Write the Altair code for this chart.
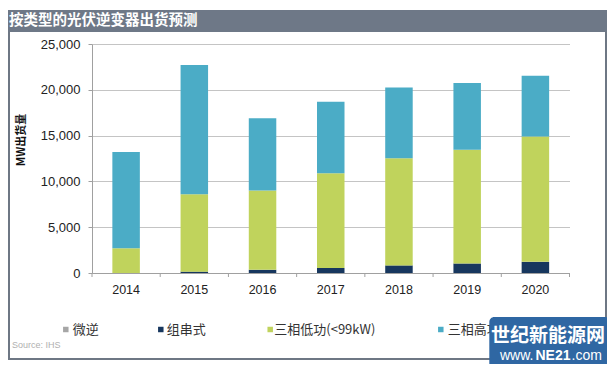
import altair as alt
import pandas as pd

years = ["2014", "2015", "2016", "2017", "2018", "2019", "2020"]
series = ["微逆", "组串式", "三相低功(<99kW)", "三相高功(>99kW)"]
micro = [0, 0, 0, 0, 0, 0, 0]
string_inv = [0, 150, 350, 550, 830, 1040, 1220]
low_power = [2700, 8450, 8650, 10350, 11710, 12410, 13670]
high_power = [10500, 14100, 7900, 7800, 7700, 7300, 6650]
colors = ["#a6a6a6", "#17375e", "#c0d35c", "#4bacc6"]
y_ticks = [0, 5000, 10000, 15000, 20000, 25000]

rows = []
for i, y in enumerate(years):
    for k, (name, vals) in enumerate(zip(series, [micro, string_inv, low_power, high_power])):
        rows.append({"year": y, "series": name, "value": vals[i], "order": k})
df = pd.DataFrame(rows)

W, H = 477.5, 229
FONT = "Noto Sans CJK SC"
one = pd.DataFrame({"a": [0]})
color_scale = alt.Scale(domain=series, range=colors)

bars = alt.Chart(df).mark_bar(size=27.5).encode(
    x=alt.X("year:N", sort=years, title=None,
            scale=alt.Scale(type="band", paddingInner=0, paddingOuter=0),
            axis=alt.Axis(labelAngle=0, ticks=False, domainColor="#a0a0a0",
                          labelFont="Liberation Sans", labelFontSize=12.5,
                          labelColor="#222", labelPadding=10)),
    y=alt.Y("value:Q", stack="zero", title=None,
            scale=alt.Scale(domain=[0, 25000], nice=False),
            axis=alt.Axis(values=y_ticks, format=",.0f", gridColor="#c4c4c4",
                          domainColor="#a0a0a0", tickColor="#a0a0a0", tickSize=4,
                          labelFont="Liberation Sans", labelFontSize=13,
                          labelColor="#222", labelPadding=8)),
    color=alt.Color("series:N", sort=series, scale=color_scale, legend=None),
    order=alt.Order("order:Q"),
)

ticks = alt.Chart(pd.DataFrame({"year": years})).mark_rule(
    xOffset=-W / 14, color="#a0a0a0").encode(
    x=alt.X("year:N", sort=years), y=alt.value(H), y2=alt.value(H + 4))
tick_end = alt.Chart(one).mark_rule(color="#a0a0a0").encode(
    x=alt.value(W), y=alt.value(H), y2=alt.value(H + 4))

# hand-placed legend (so that the watermark can cover it as in the reference)
legend_sym_x = [-26.2, 68.8, 178.2, 348.8]
legend_txt_x = [-19.3, 74.7, 182.3, 355.7]
legend_y = 285.5
leg_layers = []
for name, sx, tx in zip(series, legend_sym_x, legend_txt_x):
    d = pd.DataFrame({"series": [name]})
    leg_layers.append(alt.Chart(d).mark_square(size=30, opacity=1).encode(
        x=alt.value(sx), y=alt.value(legend_y),
        color=alt.Color("series:N", scale=color_scale, legend=None)))
    leg_layers.append(alt.Chart(d).mark_text(
        align="left", baseline="middle", font=FONT, fontSize=13, color="#333").encode(
        x=alt.value(tx), y=alt.value(legend_y), text="series:N"))

frame = alt.Chart(one).mark_rect(fill="white", fillOpacity=0, stroke="#6e7784",
                                 strokeWidth=2).encode(
    x=alt.value(-83), x2=alt.value(514), y=alt.value(-30), y2=alt.value(315))
title_bar = alt.Chart(one).mark_rect(color="#6e7887").encode(
    x=alt.value(-84), x2=alt.value(515), y=alt.value(-34), y2=alt.value(-12))
title_txt = alt.Chart(one).mark_text(
    text="按类型的光伏逆变器出货预测", align="left", baseline="middle",
    font=FONT, fontSize=14.5, fontWeight="bold", color="white").encode(
    x=alt.value(-83), y=alt.value(-23))
ytitle = alt.Chart(one).mark_text(
    text="MW出货量", angle=270, align="center", baseline="middle",
    font=FONT, fontSize=11, fontWeight="bold", color="#111").encode(
    x=alt.value(-70), y=alt.value(96))
source = alt.Chart(one).mark_text(
    text="Source: IHS", align="left", baseline="middle",
    font="Liberation Sans", fontSize=9, color="#b0b0b0").encode(
    x=alt.value(-80), y=alt.value(301))

wm_box = alt.Chart(one).mark_rect(color="#2f67a3", cornerRadius=5, opacity=1).encode(
    x=alt.value(397.3), x2=alt.value(518), y=alt.value(273), y2=alt.value(324))
wm_t1 = alt.Chart(one).mark_text(
    text="世纪新能源网", align="center", baseline="middle", font=FONT,
    fontSize=19, fontWeight="bold", color="white").encode(
    x=alt.value(456), y=alt.value(292))
wm_t2 = alt.Chart(one).mark_text(
    text="www.", align="left", baseline="middle", font="Liberation Sans",
    fontSize=14, color="white").encode(x=alt.value(408), y=alt.value(312))
wm_t3 = alt.Chart(one).mark_text(
    text="NE21", align="left", baseline="middle", font="Liberation Sans",
    fontSize=14, fontWeight="bold", color="white").encode(x=alt.value(443.5), y=alt.value(312))
wm_t4 = alt.Chart(one).mark_text(
    text=".com", align="left", baseline="middle", font="Liberation Sans",
    fontSize=14, color="white").encode(x=alt.value(479.5), y=alt.value(312))

chart = alt.layer(
    frame, title_bar, title_txt, ytitle, source, bars, ticks, tick_end,
    *leg_layers, wm_box, wm_t1, wm_t2, wm_t3, wm_t4
).properties(
    width=W, height=H,
    autosize=alt.AutoSizeParams(type="none"),
    padding={"left": 84, "top": 36, "right": 37.5, "bottom": 91},
).configure_view(stroke=None)

chart.save("out.html", embed_options={"renderer": "svg", "actions": False})
